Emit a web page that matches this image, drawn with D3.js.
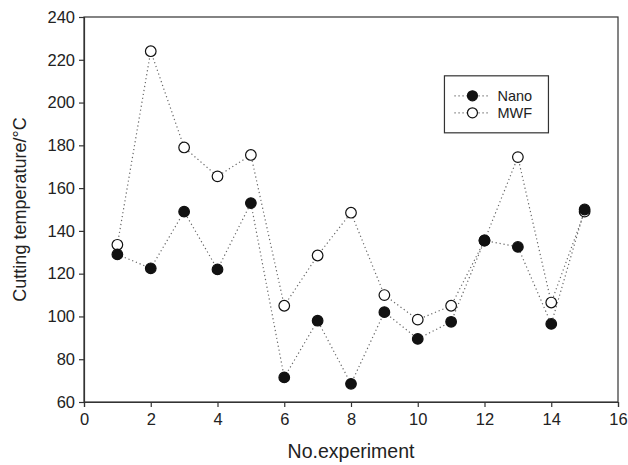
<!DOCTYPE html>
<html>
<head>
<meta charset="utf-8">
<script src="https://cdn.jsdelivr.net/npm/d3@7"></script>
<style>
  body { margin: 0; background: #fff; }
  svg { display: block; font-family: "Liberation Sans", Arial, sans-serif; }
</style>
</head>
<body>
<div class="container"></div>
<script>
// DATA
const experiments = [1, 2, 3, 4, 5, 6, 7, 8, 9, 10, 11, 12, 13, 14, 15];
const nano = [129, 122.5, 149, 122, 153, 71.5, 98, 68.5, 102, 89.5, 97.5, 135.5, 132.5, 96.5, 150];
const mwf = [133.5, 224, 179, 165.5, 175.5, 105, 128.5, 148.5, 110, 98.5, 105, 135.5, 174.5, 106.5, 149];
const xTicks = [0, 2, 4, 6, 8, 10, 12, 14, 16];
const yTicks = [60, 80, 100, 120, 140, 160, 180, 200, 220, 240];

// SETUP
const W = 628, H = 465;
const margin = { top: 17, right: 10, bottom: 63, left: 84 };
const width = W - margin.left - margin.right,
      height = H - margin.top - margin.bottom;

const svg = d3.select("div.container")
  .append("svg")
  .attr("width", W)
  .attr("height", H);

const g = svg.append("g")
  .attr("transform", `translate(${margin.left}, ${margin.top})`);

const x = d3.scaleLinear().domain([0, 16]).range([0, width]);
const y = d3.scaleLinear().domain([60, 240]).range([height, 0]);

// frame (top and right lines)
g.append("rect")
  .attr("width", width)
  .attr("height", height)
  .attr("fill", "none")
  .attr("stroke", "#333")
  .attr("stroke-width", 1.2);

// axes
const xAxis = g.append("g")
  .attr("transform", `translate(0, ${height})`)
  .call(d3.axisBottom(x).tickValues(xTicks).tickSize(5).tickPadding(6));

const yAxis = g.append("g")
  .call(d3.axisLeft(y).tickValues(yTicks).tickSize(5).tickPadding(4));

[xAxis, yAxis].forEach(a => {
  a.select(".domain").attr("stroke", "#333").attr("stroke-width", 1.2);
  a.selectAll(".tick line").attr("stroke", "#333").attr("stroke-width", 1.2);
  a.selectAll(".tick text")
    .attr("fill", "#222")
    .style("font-size", "16.5px")
    .style("font-family", "Liberation Sans, Arial, sans-serif");
});

// axis titles
svg.append("text")
  .attr("x", margin.left + width / 2)
  .attr("y", 458)
  .attr("text-anchor", "middle")
  .attr("fill", "#222")
  .style("font-size", "19.5px")
  .text("No.experiment");

svg.append("text")
  .attr("transform", `translate(26, ${margin.top + height / 2}) rotate(-90)`)
  .attr("text-anchor", "middle")
  .attr("fill", "#222")
  .style("font-size", "18px")
  .text("Cutting temperature/°C");

// series
const series = [
  { name: "Nano", values: nano, fill: "#111" },
  { name: "MWF", values: mwf, fill: "#fff" }
];

const line = d3.line()
  .x((d, i) => x(experiments[i]))
  .y(d => y(d));

series.slice().reverse().forEach(s => {
  g.append("path")
    .datum(s.values)
    .attr("d", line)
    .attr("fill", "none")
    .attr("stroke", "#666")
    .attr("stroke-width", 1.2)
    .attr("stroke-dasharray", "1.2,2.8");
});

series.slice().reverse().forEach(s => {
  g.append("g")
    .selectAll("circle")
    .data(s.values)
    .enter()
    .append("circle")
    .attr("cx", (d, i) => x(experiments[i]))
    .attr("cy", d => y(d))
    .attr("r", 5.3)
    .attr("fill", s.fill)
    .attr("stroke", "#111")
    .attr("stroke-width", 1.2);
});

// legend
const legend = g.append("g")
  .attr("transform", `translate(${x(10.8)}, ${y(212.5)})`);

legend.append("rect")
  .attr("width", 104)
  .attr("height", 57)
  .attr("fill", "#fff")
  .attr("stroke", "#333")
  .attr("stroke-width", 1.2);

series.forEach((s, i) => {
  const row = legend.append("g").attr("transform", `translate(0, ${20 + i * 17})`);
  row.append("line")
    .attr("x1", 10).attr("x2", 44)
    .attr("stroke", "#666")
    .attr("stroke-width", 1.2)
    .attr("stroke-dasharray", "1.2,2.8");
  row.append("circle")
    .attr("cx", 28)
    .attr("r", 5)
    .attr("fill", s.fill)
    .attr("stroke", "#111")
    .attr("stroke-width", 1.2);
  row.append("text")
    .attr("x", 53)
    .attr("dy", "0.35em")
    .attr("fill", "#222")
    .style("font-size", "14.5px")
    .text(s.name);
});
</script>
</body>
</html>
